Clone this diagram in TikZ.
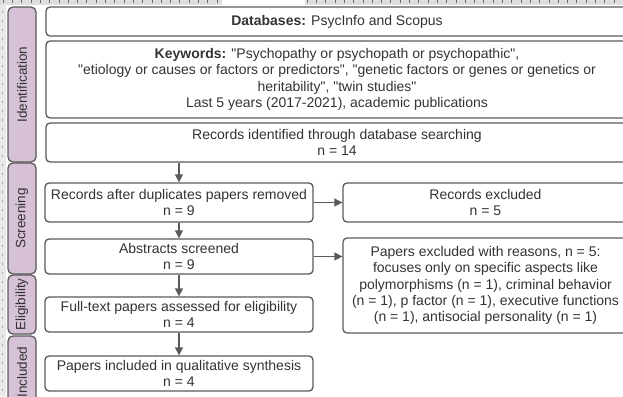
\documentclass[tikz,border=0pt]{standalone}
\usepackage{fontspec}
% plain family: no TeX mapping, so " stays a straight quote
\newfontfamily\arial{Liberation Sans}
\setmainfont{Liberation Sans}
\usetikzlibrary{arrows.meta}
\definecolor{edge}{HTML}{5A5A5A}
\definecolor{stagefill}{HTML}{D6C1D6}
\definecolor{ink}{HTML}{333333}
\definecolor{rulerbg}{HTML}{DEDEDE}
\definecolor{tick}{HTML}{707070}

\begin{document}
\begin{tikzpicture}[x=1pt,y=-1pt,
  box/.style={draw=edge, line width=1.3pt, rounded corners=4pt, fill=white,
    text=ink, align=center, inner sep=0pt,
    font=\arial\fontsize{14}{16.4}\selectfont},
  stage/.style={draw=edge, line width=1.3pt, rounded corners=5pt,
    fill=stagefill, text=ink, rotate=90, inner sep=0pt,
    font=\arial\fontsize{13.5}{16}\selectfont},
  flow/.style={draw=edge, line width=1.3pt,
    -{Triangle[length=8pt,width=8pt]}}]

\useasboundingbox (0,0) rectangle (623,396);
\clip (0,0) rectangle (623,396);
\fill[white] (0,0) rectangle (623,396);

% ruler strips along the top and left edges
\fill[rulerbg] (0,0) rectangle (222,5);
\fill[rulerbg] (305,0) rectangle (623,5);
\foreach \x in {3,12.3,...,220} \draw[tick, line width=0.6pt] (\x,0) -- (\x,3);
\foreach \x in {307,316.3,...,623} \draw[tick, line width=0.6pt] (\x,0) -- (\x,3);
\fill[rulerbg!70] (0,5) rectangle (6,396);
\foreach \y in {12,21,...,396} \fill[tick] (2.5,\y) circle (0.7);

% phase labels
\node[stage, minimum width=155, minimum height=28] (ident) at (22,84.5) {Identification};
\node[stage, minimum width=111, minimum height=28] (screen) at (22,218.5) {Screening};
\node[stage, minimum width=59, minimum height=28] (elig) at (22,304.5) {Eligibility};
\node[stage, minimum width=72, minimum height=28] (incl) at (22,372) {Included};

% identification boxes
\node[box, minimum width=582, minimum height=29] (db) at (337,21.5)
  {\textbf{Databases:} PsycInfo and Scopus};
\node[box, minimum width=582, minimum height=77] (kw) at (337,79.5)
  {\textbf{Keywords:} "Psychopathy or psychopath or psychopathic",\\
   "etiology or causes or factors or predictors", "genetic factors or genes or genetics or\\
   heritability", "twin studies"\\
   Last 5 years (2017-2021), academic publications};
\node[box, minimum width=582, minimum height=39] (found) at (337,142.5)
  {Records identified through database searching\\ n = 14};

% main flow
\node[box, minimum width=268, minimum height=39] (dedup) at (179,202.5)
  {Records after duplicates papers removed\\ n = 9};
\node[box, minimum width=268, minimum height=35] (abs) at (179,256.5)
  {Abstracts screened\\ n = 9};
\node[box, minimum width=268, minimum height=35] (full) at (179,314.5)
  {Full-text papers assessed for eligibility\\ n = 4};
\node[box, minimum width=268, minimum height=35] (final) at (179,373.5)
  {Papers included in qualitative synthesis\\ n = 4};

% exclusions
\node[box, minimum width=285, minimum height=39] (recex) at (485.5,202.5)
  {Records excluded\\ n = 5};
\node[box, minimum width=285, minimum height=95] (papex) at (485.5,285.5)
  {Papers excluded with reasons, n = 5:\\
   focuses only on specific aspects like\\
   polymorphisms (n = 1), criminal behavior\\
   (n = 1), p factor (n = 1), executive functions\\
   (n = 1), antisocial personality (n = 1)};

% connectors
\draw[flow] (dedup.north |- found.south) -- (dedup.north);
\draw[flow] (dedup.south) -- (abs.north);
\draw[flow] (abs.south) -- (full.north);
\draw[flow] (full.south) -- (final.north);
\draw[flow] (dedup.east) -- (recex.west);
\draw[flow] (abs.east) -- (abs.east -| papex.west);
\end{tikzpicture}
\end{document}
